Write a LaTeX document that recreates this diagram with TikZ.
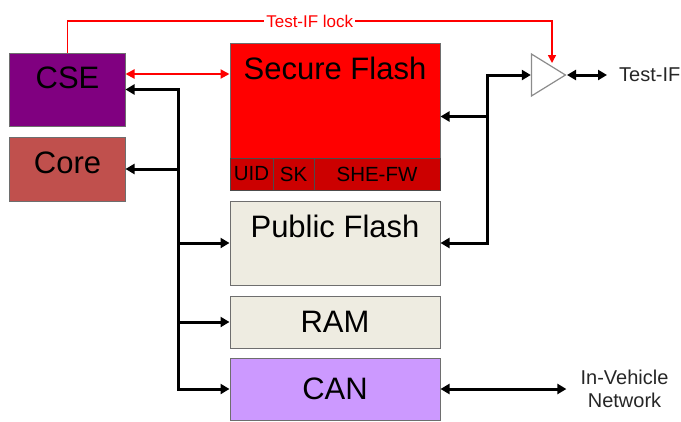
\documentclass[tikz,border=0pt]{standalone}
\usepackage{fontspec}
\setmainfont{Liberation Sans}
\usetikzlibrary{arrows.meta,shapes.geometric}
\definecolor{cseC}{RGB}{128,0,128}
\definecolor{coreC}{RGB}{192,80,77}
\definecolor{secC}{RGB}{255,0,0}
\definecolor{keyC}{RGB}{204,0,0}
\definecolor{memC}{RGB}{238,236,225}
\definecolor{canC}{RGB}{204,153,255}
\definecolor{edgeC}{RGB}{110,110,110}
\begin{document}
\begin{tikzpicture}[x=1bp,y=-1bp,
	box/.style={draw=edgeC,line width=1bp,inner sep=0pt},
	big/.style={font=\fontsize{31bp}{36bp}\selectfont,inner sep=0pt},
	small/.style={font=\fontsize{20.5bp}{24bp}\selectfont,inner sep=0pt},
	sidetxt/.style={font=\fontsize{20bp}{23bp}\selectfont,text=black!85,inner sep=0pt},
	bus/.style={line width=3bp,>={Triangle[length=9bp,width=10bp]}},
	redbus/.style={red,line width=2bp,>={Triangle[length=9bp,width=9bp]}},
	lock/.style={red,line width=1.5bp,-{Triangle[length=8bp,width=8bp]}},
	locklbl/.style={font=\fontsize{17bp}{20bp}\selectfont,text=red,fill=white,inner xsep=2bp,inner ysep=0pt}]
\useasboundingbox (0,0) rectangle (681,421);

% left column
\node[box,fill=cseC,minimum width=115bp,minimum height=73bp] (cse) at (67.5,89.5) {};
\node[big] (cseT) at (67.5,78) {CSE};
\node[box,fill=coreC,minimum width=115bp,minimum height=64bp] (core) at (67.5,169) {};
\node[big] (coreT) at (67.5,163) {Core};

% memories
\node[box,fill=secC,minimum width=210bp,minimum height=147bp] (sec) at (335,116.5) {};
\node[big] (secT) at (335,68) {Secure Flash};
\node[box,fill=keyC,draw=black!70,minimum width=43bp,minimum height=32bp,small] (uid) at (251.5,174) {UID};
\node[box,fill=keyC,draw=black!70,minimum width=41bp,minimum height=32bp,small] (sk) at (293.5,174) {SK};
\node[box,fill=keyC,draw=black!70,minimum width=126bp,minimum height=32bp,small] (fw) at (377,174) {SHE-FW};
\node[box,fill=memC,minimum width=210bp,minimum height=84bp] (pub) at (335,243) {};
\node[big] (pubT) at (335,226) {Public Flash};
\node[box,fill=memC,minimum width=210bp,minimum height=52bp,big] (ram) at (335,322) {RAM};
\node[box,fill=canC,minimum width=210bp,minimum height=62bp,big] (can) at (335,389) {CAN};

% test interface
\node[isosceles triangle,isosceles triangle stretches,draw=black!45,fill=white,line width=1.2bp,
	inner sep=0pt,minimum width=42bp,minimum height=34bp,anchor=apex] (buf) at (567,75) {};
\node[sidetxt,anchor=west] (tif) at (619,75) {Test-IF};
\node[sidetxt,align=center] (net) at (624.5,389) {In-Vehicle\\Network};

% buses
\coordinate (bl) at (178,0);
\coordinate (br) at (487,0);
\draw[bus,<->] (cse.east) -- (bl |- cse.east) -- (bl |- can.west) -- (can.west);
\draw[bus,->] (bl |- core.east) -- (core.east);
\foreach \n in {pub,ram}
	\draw[bus,->] (bl |- \n.west) -- (\n.west);
\draw[bus,<->] (buf.lower side) -- (br |- buf.lower side) -- (br |- pub.east) -- (pub.east);
\draw[bus,->] (br |- sec.east) -- (sec.east);
\draw[bus,<->] (buf.apex) -- ([xshift=-12bp]tif.west);
\draw[bus,<->] (can.east) -- ([xshift=-14bp]net.west);

% CSE to secure flash, and the lock
\draw[redbus,<->] ([yshift=15.5bp]cse.east) -- ([yshift=15.5bp]cse.east -| sec.west);
\coordinate (lktop) at (552,21);
\coordinate (lkend) at (552,63);
\draw[lock] (cse.north) |- node[pos=.75,locklbl] {Test-IF lock} (lktop) -- (lkend);
\end{tikzpicture}
\end{document}
